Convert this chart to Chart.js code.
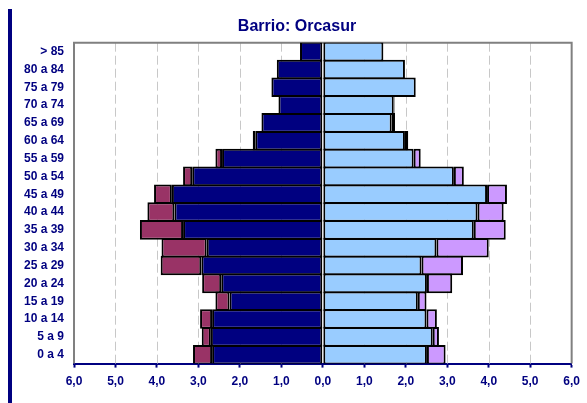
<!DOCTYPE html>
<html>
<head>
<meta charset="utf-8">
<script src="https://cdn.jsdelivr.net/npm/chart.js@4/dist/chart.umd.min.js"></script>
<style>
  html, body { margin: 0; padding: 0; background: #fff; }
  #wrap { position: relative; width: 587px; height: 403px; }
</style>
</head>
<body>
<div id="wrap"><canvas id="pyr"></canvas></div>
<script>
/* ── datos: pirámide de población, Barrio Orcasur (%) ── */
const ageGroups = ['> 85', '80 a 84', '75 a 79', '70 a 74', '65 a 69', '60 a 64', '55 a 59', '50 a 54', '45 a 49',
  '40 a 44', '35 a 39', '30 a 34', '25 a 29', '20 a 24', '15 a 19', '10 a 14', '5 a 9', '0 a 4'];
const menNative     = [0.55, 1.11, 1.24, 1.07, 1.48, 1.63, 2.43, 3.15, 3.64, 3.58, 3.37, 2.80, 2.93, 2.45, 2.25, 2.67, 2.70, 2.67];
const menForeign    = [0, 0, 0, 0, 0, 0.06, 0.16, 0.22, 0.43, 0.65, 1.04, 1.09, 0.98, 0.46, 0.34, 0.29, 0.22, 0.46];
const womenNative   = [1.46, 1.98, 2.24, 1.71, 1.66, 1.98, 2.19, 3.16, 3.96, 3.73, 3.64, 2.74, 2.38, 2.51, 2.29, 2.50, 2.65, 2.51];
const womenForeign  = [0, 0, 0, 0.02, 0.08, 0.08, 0.17, 0.24, 0.48, 0.63, 0.77, 1.26, 1.00, 0.61, 0.21, 0.25, 0.15, 0.45];
const axisTicks     = [-6, -5, -4, -3, -2, -1, 0, 1, 2, 3, 4, 5, 6];

const NAVY = '#000080';
const FONT = "'Liberation Sans', Arial, sans-serif";

// marco gris, rejilla discontinua y barra azul de la izquierda
const decor = {
  id: 'decor',
  beforeDraw(chart) {
    const c = chart.ctx;
    c.save();
    c.fillStyle = '#fff';
    c.fillRect(0, 0, chart.width, chart.height);
    c.fillStyle = NAVY;
    c.fillRect(8, 9, 4, chart.height - 9);
    c.restore();
  },
  beforeDatasetsDraw(chart) {
    const c = chart.ctx, a = chart.chartArea, x = chart.scales.x;
    c.save();
    c.strokeStyle = '#c8c8c8';
    c.lineWidth = 1;
    c.setLineDash([9, 4]);
    axisTicks.forEach(v => {
      if (v === 0 || Math.abs(v) === 6) return;
      const px = Math.round(x.getPixelForValue(v)) + 0.5;
      c.beginPath(); c.moveTo(px, a.top); c.lineTo(px, a.bottom); c.stroke();
    });
    c.setLineDash([]);
    c.strokeStyle = '#808080';
    c.lineWidth = 2;
    c.beginPath();
    c.moveTo(a.left, a.bottom);
    c.lineTo(a.left, a.top);
    c.lineTo(a.right, a.top);
    c.lineTo(a.right, a.bottom);
    c.stroke();
    c.restore();
  }
};

const mkSet = (label, vals, color, sign) => ({
  label,
  data: vals.map(v => sign * v),
  backgroundColor: color,
  borderColor: '#000',
  borderWidth: 2,
  borderSkipped: false,
  barPercentage: 1.1,
  categoryPercentage: 1
});

new Chart(document.getElementById('pyr'), {
  type: 'bar',
  data: {
    labels: ageGroups,
    datasets: [
      mkSet('Hombres españoles', menNative, NAVY, -1),
      mkSet('Hombres extranjeros', menForeign, '#993366', -1),
      mkSet('Mujeres españolas', womenNative, '#99CCFF', 1),
      mkSet('Mujeres extranjeras', womenForeign, '#CC99FF', 1)
    ]
  },
  options: {
    indexAxis: 'y',
    responsive: true,
    maintainAspectRatio: false,
    animation: false,
    layout: { padding: { left: 21, right: 14, top: 0, bottom: 7 } },
    plugins: {
      legend: { display: false },
      tooltip: { enabled: false },
      title: {
        display: true,
        text: 'Barrio: Orcasur',
        color: NAVY,
        font: { family: FONT, size: 16, weight: 'bold' },
        padding: { top: 17, bottom: 6.5 }
      }
    },
    scales: {
      x: {
        stacked: true,
        min: -6, max: 6,
        afterBuildTicks: s => { s.ticks = axisTicks.map(v => ({ value: v })); },
        ticks: {
          color: NAVY,
          font: { family: FONT, size: 12, weight: 'bold' },
          padding: 7,
          maxRotation: 0,
          callback: v => Math.abs(v).toFixed(1).replace('.', ',')
        },
        grid: { drawOnChartArea: false, drawTicks: true, tickLength: 4, tickColor: NAVY, tickWidth: 2 },
        border: { display: true, color: NAVY, width: 2 }
      },
      y: {
        stacked: true,
        afterFit: s => { s.width = 53; },
        ticks: {
          color: NAVY,
          font: { family: FONT, size: 12, weight: 'bold' },
          padding: 10,
          autoSkip: false
        },
        grid: { display: false, drawTicks: false },
        border: { display: false }
      }
    }
  },
  plugins: [decor]
});
</script>
</body>
</html>
